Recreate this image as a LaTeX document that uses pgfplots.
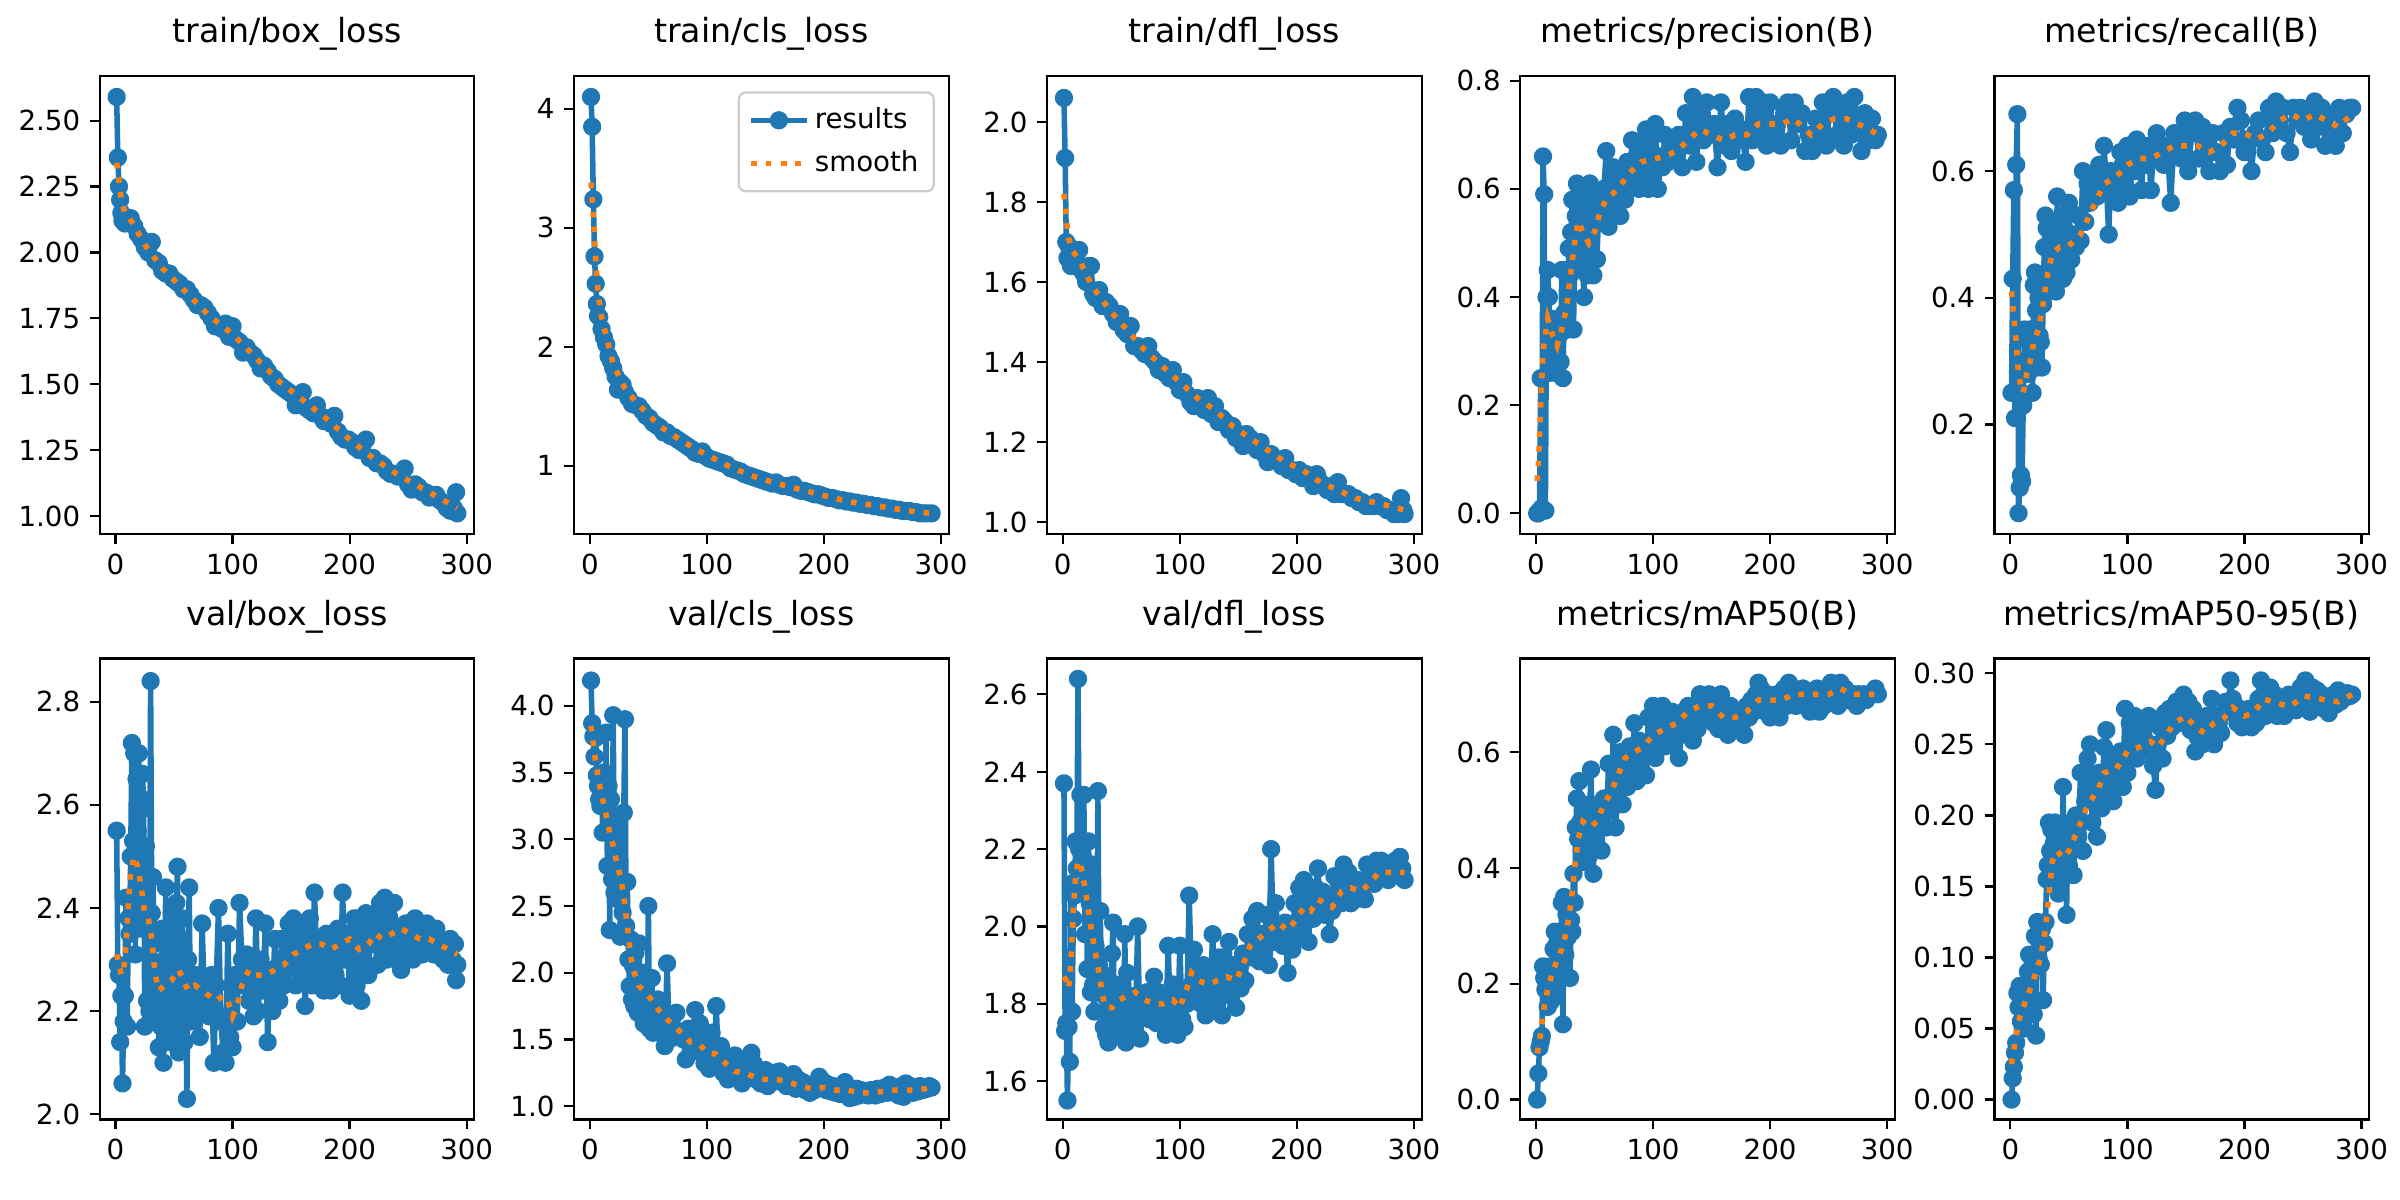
\documentclass[border=0pt]{standalone}
\usepackage{fontspec}
\setmainfont{DejaVu Sans}
\usepackage{pgfplots}
\pgfplotsset{compat=1.18}
\definecolor{c0}{HTML}{1F77B4}
\definecolor{c1}{HTML}{FF7F0E}
\pgfplotsset{
  panel/.style={scale only axis, width=135.4pt, anchor=south west,
    xmin=-13.55, xmax=306.55, xtick={0,100,200,300},
    tick pos=left, tick align=outside, major tick length=3.5pt,
    every tick/.append style={line width=0.8pt, black},
    axis line style={line width=0.8pt},
    ticklabel style={font=\fontsize{10}{12}\selectfont},
    /pgf/number format/assume math mode=true,
    scaled y ticks=false, clip marker paths=true,
    title style={font=\fontsize{12}{14}\selectfont, at={(0.5,1)}, anchor=base, yshift=6pt, inner sep=0pt},
  },
  rowa/.style={height=165.5pt},
  rowb/.style={height=166.6pt},
  yprec/.style={yticklabel style={/pgf/number format/fixed, /pgf/number format/fixed zerofill, /pgf/number format/precision=#1}},
  res/.style={color=c0, line width=2pt, mark=*, mark size=2.3pt, line join=round, mark options={solid}},
  smo/.style={color=c1, line width=2pt, dash pattern=on 2pt off 3.3pt, line cap=butt, no marks},
}
\begin{document}
\begin{tikzpicture}
\path[use as bounding box] (0,0) rectangle (867.24pt,433.62pt);

% ---------- train/box_loss
\begin{axis}[panel, rowa, at={(36.0pt,240.6pt)}, title={train/box\_loss}, ymin=0.931, ymax=2.669, ytick={1,1.25,1.5,1.75,2,2.25,2.5}, yprec=2]
\addplot[res] coordinates {(1,2.59)(2,2.36)(3,2.25)(4,2.20)(5,2.15)(6,2.12)(8,2.11)(10,2.12)(13,2.13)(16,2.10)(19,2.07)(22,2.05)(25,2.02)(28,2.00)(31,2.04)(34,1.97)(37,1.96)(40,1.93)(43,1.92)(46,1.92)(49,1.90)(52,1.89)(55,1.88)(58,1.86)(61,1.86)(64,1.84)(67,1.82)(70,1.80)(73,1.80)(76,1.79)(79,1.77)(82,1.75)(85,1.72)(88,1.72)(91,1.71)(94,1.73)(97,1.68)(100,1.72)(103,1.67)(106,1.66)(109,1.62)(112,1.64)(115,1.62)(118,1.61)(121,1.59)(124,1.56)(127,1.57)(130,1.55)(133,1.53)(136,1.52)(139,1.50)(142,1.49)(145,1.48)(148,1.47)(151,1.46)(154,1.42)(157,1.44)(160,1.47)(163,1.41)(166,1.40)(169,1.39)(172,1.42)(175,1.38)(178,1.36)(181,1.37)(184,1.35)(187,1.38)(190,1.32)(193,1.30)(196,1.29)(199,1.29)(202,1.28)(205,1.26)(208,1.25)(211,1.27)(214,1.29)(217,1.22)(220,1.22)(223,1.20)(226,1.20)(229,1.19)(232,1.17)(235,1.16)(238,1.16)(241,1.15)(244,1.15)(247,1.18)(250,1.12)(253,1.10)(256,1.12)(259,1.11)(262,1.09)(265,1.09)(268,1.07)(271,1.08)(274,1.08)(277,1.06)(280,1.05)(283,1.03)(286,1.02)(289,1.03)(291,1.09)(292,1.01)};
\addplot[smo] coordinates {(1,2.34)(3,2.27)(5,2.20)(8,2.15)(15,2.11)(25,2.03)(40,1.94)(60,1.85)(80,1.76)(100,1.69)(120,1.60)(140,1.51)(160,1.44)(180,1.37)(200,1.29)(220,1.22)(240,1.16)(260,1.11)(280,1.06)(292,1.03)};
\end{axis}

% ---------- train/cls_loss
\begin{axis}[panel, rowa, at={(207.4pt,240.6pt)}, title={train/cls\_loss}, ymin=0.425, ymax=4.275, ytick={1,2,3,4}, yprec=0,
  legend style={at={(1,1)}, anchor=north east, xshift=-5pt, yshift=-5.5pt, draw=black!20, line width=0.8pt, rounded corners=2.5pt, fill=white, font=\fontsize{10}{12}\selectfont, inner xsep=3.5pt, inner ysep=3.5pt, row sep=2.5pt},
  legend cell align=left,
  legend image code/.code={\draw[mark repeat=2,mark phase=2] plot coordinates {(0pt,0pt) (10pt,0pt) (20pt,0pt)};}]
\addplot[res] coordinates {(1,4.10)(2,3.85)(3,3.24)(4,2.76)(5,2.53)(6,2.36)(7,2.26)(8,2.25)(10,2.15)(12,2.08)(14,2.02)(16,1.92)(18,1.88)(20,1.82)(22,1.75)(24,1.64)(26,1.70)(28,1.68)(30,1.62)(33,1.57)(36,1.52)(39,1.51)(42,1.50)(45,1.46)(48,1.42)(51,1.40)(54,1.36)(57,1.34)(60,1.32)(63,1.28)(66,1.28)(69,1.25)(72,1.24)(75,1.22)(78,1.20)(81,1.18)(84,1.16)(87,1.14)(90,1.11)(93,1.10)(96,1.12)(99,1.08)(102,1.06)(105,1.05)(108,1.04)(111,1.03)(114,1.02)(117,1.01)(120,0.98)(123,0.97)(126,0.96)(129,0.95)(132,0.93)(135,0.92)(138,0.91)(141,0.90)(144,0.89)(147,0.88)(150,0.87)(153,0.86)(156,0.85)(159,0.86)(162,0.84)(165,0.83)(168,0.83)(171,0.82)(174,0.84)(177,0.80)(180,0.79)(183,0.79)(186,0.78)(189,0.77)(192,0.76)(195,0.76)(198,0.75)(201,0.74)(204,0.73)(207,0.73)(210,0.72)(213,0.71)(216,0.71)(219,0.70)(222,0.70)(225,0.69)(228,0.69)(231,0.68)(234,0.68)(237,0.67)(240,0.67)(243,0.66)(246,0.66)(249,0.65)(252,0.65)(255,0.64)(258,0.64)(261,0.63)(264,0.63)(267,0.62)(270,0.62)(273,0.62)(276,0.61)(279,0.61)(282,0.60)(285,0.60)(288,0.60)(292,0.60)};
\addlegendentry{results}
\addplot[smo] coordinates {(1,3.38)(3,3.10)(5,2.75)(7,2.45)(10,2.25)(15,2.05)(20,1.85)(30,1.65)(40,1.53)(50,1.43)(60,1.33)(80,1.20)(100,1.09)(120,0.99)(140,0.91)(160,0.85)(180,0.80)(200,0.75)(220,0.70)(240,0.67)(260,0.64)(280,0.61)(292,0.60)};
\addlegendentry{smooth}
\end{axis}

% ---------- train/dfl_loss
\begin{axis}[panel, rowa, at={(378.3pt,240.6pt)}, title={train/dfl\_loss}, ymin=0.970, ymax=2.1145, ytick={1,1.2,1.4,1.6,1.8,2}, yprec=1]
\addplot[res] coordinates {(1,2.06)(2,1.91)(3,1.70)(4,1.66)(5,1.69)(6,1.67)(7,1.64)(8,1.66)(10,1.67)(12,1.65)(14,1.68)(16,1.63)(18,1.62)(20,1.60)(22,1.64)(24,1.64)(26,1.57)(28,1.56)(31,1.58)(34,1.54)(37,1.55)(40,1.54)(43,1.52)(46,1.50)(49,1.52)(52,1.48)(55,1.47)(58,1.49)(61,1.44)(64,1.44)(67,1.43)(70,1.42)(73,1.44)(76,1.41)(79,1.40)(82,1.38)(85,1.39)(88,1.37)(91,1.36)(94,1.38)(97,1.35)(100,1.33)(103,1.35)(106,1.32)(109,1.30)(112,1.29)(115,1.31)(118,1.30)(121,1.28)(124,1.31)(127,1.27)(130,1.29)(133,1.25)(136,1.26)(139,1.25)(142,1.23)(145,1.24)(148,1.21)(151,1.22)(154,1.19)(157,1.22)(160,1.21)(163,1.19)(166,1.18)(169,1.20)(172,1.17)(175,1.15)(178,1.17)(181,1.16)(184,1.15)(187,1.14)(190,1.16)(193,1.13)(196,1.13)(199,1.12)(202,1.13)(205,1.11)(208,1.12)(211,1.11)(214,1.09)(217,1.12)(220,1.10)(223,1.09)(226,1.08)(229,1.09)(232,1.07)(235,1.10)(238,1.07)(241,1.07)(244,1.07)(247,1.06)(250,1.06)(253,1.05)(256,1.05)(259,1.04)(262,1.04)(265,1.04)(268,1.05)(271,1.04)(274,1.04)(277,1.03)(280,1.03)(283,1.02)(286,1.02)(289,1.06)(291,1.03)(292,1.02)};
\addplot[smo] coordinates {(1,1.82)(3,1.76)(5,1.71)(8,1.68)(15,1.65)(25,1.59)(40,1.53)(55,1.48)(70,1.43)(85,1.39)(100,1.35)(115,1.31)(130,1.28)(145,1.24)(160,1.21)(175,1.18)(190,1.15)(205,1.13)(220,1.10)(235,1.08)(250,1.06)(265,1.05)(280,1.04)(292,1.03)};
\end{axis}

% ---------- metrics/precision(B)
\begin{axis}[panel, rowa, at={(549.3pt,240.6pt)}, title={metrics/precision(B)}, ymin=-0.0385, ymax=0.8085, ytick={0,0.2,0.4,0.6,0.8}, yprec=1]
\addplot[res] coordinates {(1,0.0)(2,0.0)(3,0.005)(4,0.25)(5,0.01)(6,0.66)(7,0.59)(8,0.005)(9,0.40)(10,0.45)(11,0.40)(12,0.26)(13,0.36)(14,0.30)(15,0.35)(16,0.26)(17,0.34)(18,0.30)(19,0.35)(20,0.33)(21,0.28)(22,0.45)(23,0.25)(24,0.37)(25,0.45)(26,0.36)(27,0.34)(28,0.49)(29,0.44)(30,0.52)(31,0.58)(32,0.34)(33,0.46)(34,0.55)(35,0.61)(36,0.52)(37,0.60)(38,0.48)(39,0.57)(40,0.45)(41,0.40)(42,0.59)(43,0.50)(44,0.44)(45,0.55)(46,0.61)(47,0.48)(48,0.58)(49,0.44)(50,0.55)(52,0.47)(54,0.58)(56,0.55)(58,0.60)(60,0.67)(62,0.53)(64,0.60)(66,0.64)(68,0.56)(70,0.62)(72,0.55)(74,0.63)(76,0.58)(78,0.65)(80,0.60)(82,0.69)(84,0.62)(86,0.66)(88,0.60)(90,0.68)(92,0.63)(94,0.71)(96,0.60)(98,0.70)(100,0.62)(102,0.72)(104,0.60)(106,0.66)(108,0.64)(110,0.70)(113,0.65)(116,0.68)(119,0.66)(122,0.70)(125,0.64)(128,0.74)(131,0.68)(134,0.77)(137,0.65)(140,0.74)(143,0.69)(146,0.76)(149,0.70)(152,0.72)(155,0.64)(158,0.76)(161,0.68)(164,0.72)(167,0.67)(170,0.73)(173,0.69)(176,0.71)(179,0.65)(182,0.77)(185,0.69)(188,0.77)(191,0.70)(194,0.76)(197,0.68)(200,0.76)(203,0.70)(206,0.72)(209,0.68)(212,0.74)(215,0.76)(218,0.69)(221,0.76)(224,0.72)(227,0.74)(230,0.67)(233,0.70)(236,0.67)(239,0.73)(242,0.69)(245,0.76)(248,0.68)(251,0.75)(254,0.77)(257,0.70)(260,0.74)(263,0.68)(266,0.76)(269,0.70)(272,0.77)(275,0.72)(278,0.67)(281,0.74)(284,0.69)(287,0.73)(290,0.69)(292,0.70)};
\addplot[smo] coordinates {(1,0.06)(2,0.09)(3,0.14)(4,0.20)(5,0.25)(6,0.30)(8,0.33)(10,0.36)(14,0.33)(18,0.31)(22,0.34)(26,0.38)(30,0.45)(33,0.50)(36,0.54)(40,0.52)(45,0.50)(50,0.52)(55,0.56)(60,0.58)(65,0.59)(70,0.60)(80,0.63)(90,0.65)(100,0.655)(110,0.66)(120,0.67)(130,0.69)(140,0.71)(150,0.70)(160,0.69)(170,0.70)(180,0.70)(190,0.72)(200,0.72)(210,0.72)(220,0.73)(230,0.71)(235,0.70)(245,0.72)(255,0.73)(265,0.73)(275,0.72)(285,0.71)(292,0.70)};
\end{axis}

% ---------- metrics/recall(B)
\begin{axis}[panel, rowa, at={(720.7pt,240.6pt)}, title={metrics/recall(B)}, ymin=0.0268, ymax=0.750, ytick={0.2,0.4,0.6}, yprec=1]
\addplot[res] coordinates {(1,0.25)(2,0.43)(3,0.57)(4,0.21)(5,0.61)(6,0.69)(7,0.06)(8,0.10)(9,0.12)(10,0.11)(11,0.23)(12,0.35)(13,0.30)(14,0.34)(15,0.28)(16,0.33)(17,0.35)(18,0.32)(19,0.25)(20,0.42)(21,0.44)(22,0.38)(23,0.29)(24,0.40)(25,0.34)(26,0.33)(27,0.29)(28,0.39)(29,0.48)(30,0.53)(31,0.51)(32,0.41)(33,0.42)(34,0.48)(35,0.45)(36,0.50)(37,0.47)(38,0.43)(39,0.41)(40,0.56)(41,0.47)(42,0.52)(43,0.45)(44,0.50)(45,0.43)(46,0.53)(47,0.48)(48,0.44)(50,0.55)(52,0.46)(54,0.50)(56,0.48)(58,0.53)(60,0.49)(62,0.60)(64,0.52)(66,0.58)(68,0.55)(70,0.57)(72,0.59)(74,0.56)(76,0.61)(78,0.57)(80,0.64)(82,0.58)(84,0.50)(86,0.60)(88,0.57)(90,0.59)(92,0.55)(94,0.63)(96,0.61)(98,0.58)(100,0.64)(102,0.56)(104,0.63)(106,0.60)(108,0.65)(110,0.61)(112,0.57)(114,0.63)(116,0.61)(118,0.64)(120,0.57)(122,0.62)(125,0.66)(128,0.62)(131,0.61)(134,0.64)(137,0.55)(140,0.66)(143,0.64)(146,0.62)(149,0.68)(152,0.60)(155,0.66)(158,0.68)(161,0.62)(164,0.67)(167,0.64)(170,0.60)(173,0.66)(176,0.63)(179,0.60)(182,0.66)(185,0.61)(188,0.67)(191,0.65)(194,0.70)(197,0.68)(200,0.63)(203,0.65)(206,0.60)(209,0.66)(212,0.68)(215,0.65)(218,0.63)(221,0.70)(224,0.66)(227,0.71)(230,0.68)(233,0.70)(236,0.66)(239,0.63)(242,0.70)(245,0.68)(248,0.70)(251,0.67)(254,0.69)(257,0.65)(260,0.71)(263,0.67)(266,0.70)(269,0.64)(272,0.69)(275,0.66)(278,0.64)(281,0.70)(284,0.66)(287,0.69)(290,0.70)(292,0.70)};
\addplot[smo] coordinates {(1,0.41)(3,0.37)(5,0.33)(7,0.28)(9,0.26)(11,0.25)(14,0.28)(17,0.30)(20,0.33)(24,0.35)(28,0.39)(32,0.44)(36,0.47)(42,0.48)(48,0.48)(55,0.49)(60,0.50)(65,0.52)(70,0.54)(75,0.56)(80,0.58)(90,0.59)(100,0.61)(110,0.62)(120,0.62)(130,0.63)(140,0.64)(150,0.64)(160,0.64)(170,0.63)(180,0.64)(190,0.66)(200,0.66)(210,0.65)(220,0.66)(230,0.68)(240,0.69)(250,0.68)(260,0.69)(270,0.68)(280,0.67)(292,0.69)};
\end{axis}

% ---------- val/box_loss
\begin{axis}[panel, rowb, at={(36.0pt,29.1pt)}, title={val/box\_loss}, ymin=1.990, ymax=2.884, ytick={2,2.2,2.4,2.6,2.8}, yprec=1]
\addplot[res] coordinates {(1,2.55)(2,2.29)(3,2.27)(4,2.14)(5,2.23)(6,2.06)(7,2.18)(8,2.23)(9,2.42)(10,2.17)(11,2.38)(12,2.35)(13,2.50)(14,2.72)(15,2.53)(16,2.70)(17,2.31)(18,2.65)(19,2.55)(20,2.70)(21,2.36)(22,2.59)(23,2.66)(24,2.61)(25,2.17)(26,2.52)(27,2.22)(28,2.38)(29,2.20)(30,2.84)(31,2.39)(32,2.46)(33,2.33)(34,2.19)(35,2.22)(36,2.28)(37,2.13)(38,2.22)(39,2.17)(40,2.36)(41,2.10)(42,2.30)(43,2.44)(44,2.16)(45,2.25)(46,2.14)(47,2.30)(48,2.39)(49,2.19)(50,2.27)(51,2.15)(52,2.41)(53,2.48)(54,2.12)(55,2.30)(56,2.20)(57,2.38)(58,2.28)(59,2.14)(60,2.24)(61,2.03)(62,2.30)(63,2.44)(64,2.18)(65,2.26)(66,2.22)(68,2.27)(70,2.20)(72,2.15)(74,2.37)(76,2.22)(78,2.25)(80,2.19)(82,2.27)(84,2.10)(86,2.25)(88,2.40)(90,2.18)(92,2.12)(94,2.10)(96,2.35)(98,2.15)(100,2.13)(102,2.27)(104,2.18)(106,2.41)(108,2.30)(110,2.25)(112,2.31)(114,2.22)(116,2.29)(118,2.19)(120,2.38)(122,2.20)(124,2.30)(126,2.24)(128,2.37)(130,2.14)(132,2.28)(134,2.20)(136,2.34)(138,2.26)(140,2.22)(142,2.34)(144,2.25)(146,2.28)(148,2.37)(150,2.30)(152,2.38)(154,2.25)(156,2.33)(158,2.28)(160,2.36)(162,2.21)(164,2.33)(166,2.38)(168,2.25)(170,2.43)(172,2.30)(174,2.26)(176,2.34)(178,2.24)(180,2.35)(182,2.30)(184,2.24)(186,2.34)(188,2.27)(190,2.36)(192,2.25)(194,2.43)(196,2.30)(198,2.35)(200,2.23)(202,2.33)(204,2.38)(206,2.25)(208,2.38)(210,2.22)(212,2.35)(214,2.39)(216,2.27)(218,2.36)(220,2.33)(222,2.38)(224,2.29)(226,2.41)(228,2.31)(230,2.42)(232,2.30)(234,2.38)(236,2.31)(238,2.41)(240,2.30)(242,2.36)(244,2.28)(246,2.34)(248,2.37)(250,2.32)(252,2.35)(254,2.30)(256,2.38)(258,2.31)(260,2.36)(262,2.31)(264,2.34)(266,2.37)(268,2.32)(270,2.35)(272,2.31)(274,2.36)(276,2.32)(278,2.33)(280,2.30)(282,2.32)(284,2.29)(286,2.34)(288,2.30)(290,2.33)(291,2.26)(292,2.29)};
\addplot[smo] coordinates {(1,2.31)(3,2.29)(5,2.27)(7,2.28)(9,2.33)(11,2.41)(13,2.47)(16,2.50)(19,2.48)(22,2.44)(25,2.39)(28,2.38)(31,2.34)(34,2.27)(37,2.24)(42,2.25)(48,2.26)(54,2.28)(58,2.26)(62,2.24)(68,2.25)(74,2.24)(80,2.23)(86,2.22)(92,2.23)(96,2.22)(100,2.19)(104,2.21)(108,2.25)(114,2.28)(120,2.27)(128,2.27)(136,2.28)(144,2.29)(152,2.31)(160,2.32)(168,2.33)(176,2.33)(184,2.32)(192,2.33)(200,2.34)(208,2.32)(216,2.33)(222,2.35)(228,2.34)(236,2.35)(244,2.36)(252,2.35)(260,2.34)(268,2.34)(276,2.33)(284,2.32)(292,2.31)};
\end{axis}

% ---------- val/cls_loss
\begin{axis}[panel, rowb, at={(207.4pt,29.1pt)}, title={val/cls\_loss}, ymin=0.90, ymax=4.356, ytick={1,1.5,2,2.5,3,3.5,4}, yprec=1]
\addplot[res] coordinates {(1,4.19)(2,3.87)(3,3.77)(4,3.62)(5,3.76)(6,3.48)(7,3.40)(8,3.30)(9,3.25)(10,3.45)(11,3.05)(12,3.50)(13,3.35)(14,3.80)(15,2.80)(16,3.40)(17,2.32)(18,3.30)(19,2.70)(20,3.93)(21,2.60)(22,3.10)(23,2.80)(24,2.55)(25,3.05)(26,2.27)(27,2.70)(28,2.45)(29,3.20)(30,3.90)(31,2.35)(32,2.68)(33,2.10)(34,1.90)(35,2.25)(36,1.80)(37,2.05)(38,1.75)(39,2.15)(40,1.95)(41,1.70)(42,2.22)(43,1.85)(44,1.75)(45,2.00)(46,1.62)(47,1.80)(48,1.95)(49,1.60)(50,2.50)(51,1.58)(52,1.70)(53,1.96)(54,1.55)(55,1.75)(56,1.65)(58,1.80)(60,1.55)(62,1.70)(64,1.45)(66,2.07)(68,1.50)(70,1.62)(72,1.55)(74,1.70)(76,1.52)(78,1.55)(80,1.50)(82,1.35)(84,1.58)(86,1.40)(88,1.55)(90,1.72)(92,1.48)(94,1.62)(96,1.40)(98,1.32)(100,1.50)(102,1.28)(104,1.55)(106,1.35)(108,1.75)(110,1.30)(112,1.45)(114,1.25)(116,1.38)(118,1.20)(120,1.35)(122,1.28)(124,1.38)(126,1.22)(128,1.33)(130,1.17)(132,1.30)(134,1.22)(136,1.28)(138,1.40)(140,1.32)(142,1.20)(144,1.25)(146,1.17)(148,1.22)(150,1.27)(152,1.15)(154,1.22)(156,1.18)(158,1.25)(160,1.20)(162,1.26)(164,1.18)(166,1.22)(168,1.15)(170,1.20)(172,1.15)(174,1.24)(176,1.13)(178,1.20)(180,1.14)(182,1.18)(184,1.12)(186,1.15)(188,1.10)(190,1.16)(192,1.12)(194,1.18)(196,1.22)(198,1.14)(200,1.18)(202,1.12)(204,1.16)(206,1.11)(208,1.15)(210,1.10)(212,1.13)(214,1.09)(216,1.14)(218,1.18)(220,1.12)(222,1.06)(224,1.10)(226,1.07)(228,1.13)(230,1.08)(232,1.12)(234,1.09)(236,1.11)(238,1.08)(240,1.12)(242,1.10)(244,1.08)(246,1.13)(248,1.09)(250,1.11)(252,1.14)(254,1.10)(256,1.16)(258,1.13)(260,1.10)(262,1.12)(264,1.08)(266,1.15)(268,1.07)(270,1.17)(272,1.12)(274,1.15)(276,1.10)(278,1.14)(280,1.11)(282,1.15)(284,1.12)(286,1.14)(288,1.13)(290,1.15)(292,1.14)};
\addplot[smo] coordinates {(1,3.85)(3,3.72)(5,3.58)(8,3.42)(11,3.30)(14,3.18)(17,3.05)(20,2.95)(23,2.83)(26,2.72)(29,2.58)(32,2.35)(35,2.12)(38,2.00)(42,1.90)(48,1.85)(55,1.77)(62,1.68)(70,1.62)(78,1.55)(86,1.48)(94,1.46)(100,1.40)(108,1.39)(116,1.32)(124,1.26)(132,1.25)(140,1.22)(150,1.20)(160,1.20)(170,1.18)(180,1.15)(190,1.13)(200,1.14)(210,1.12)(220,1.12)(230,1.10)(240,1.10)(250,1.11)(260,1.12)(270,1.12)(280,1.12)(292,1.14)};
\end{axis}

% ---------- val/dfl_loss
\begin{axis}[panel, rowb, at={(378.3pt,29.1pt)}, title={val/dfl\_loss}, ymin=1.501, ymax=2.693, ytick={1.6,1.8,2,2.2,2.4,2.6}, yprec=1]
\addplot[res] coordinates {(1,2.37)(2,1.73)(3,1.75)(4,1.55)(5,1.74)(6,1.65)(7,2.11)(8,1.78)(9,2.02)(10,2.08)(11,2.22)(12,2.15)(13,2.64)(14,2.20)(15,2.34)(16,2.10)(17,2.18)(18,2.34)(19,1.98)(20,2.15)(21,1.89)(22,2.22)(23,2.06)(24,1.83)(25,2.16)(26,1.85)(27,1.78)(28,1.95)(29,1.86)(30,2.35)(31,1.90)(32,2.04)(33,1.88)(34,1.85)(35,1.74)(36,1.82)(37,1.72)(38,1.78)(39,1.70)(40,1.80)(41,1.75)(42,1.93)(43,2.01)(44,1.73)(45,1.85)(46,1.76)(47,1.72)(48,1.82)(49,1.75)(50,1.78)(51,1.85)(52,1.73)(53,1.98)(54,1.70)(55,1.88)(56,1.75)(57,1.80)(58,1.72)(60,1.82)(62,1.73)(64,2.00)(66,1.71)(68,1.80)(70,1.77)(72,1.83)(74,1.76)(76,1.80)(78,1.87)(80,1.75)(82,1.83)(84,1.78)(86,1.80)(88,1.72)(90,1.95)(92,1.76)(94,1.85)(96,1.77)(98,1.72)(100,1.95)(102,1.76)(104,1.74)(106,1.80)(108,2.08)(110,1.85)(112,1.94)(114,1.82)(116,1.87)(118,1.80)(120,1.90)(122,1.77)(124,1.86)(126,1.82)(128,1.98)(130,1.85)(132,1.80)(134,1.92)(136,1.77)(138,1.90)(140,1.84)(142,1.96)(144,1.82)(146,1.90)(148,1.79)(150,1.88)(152,1.84)(154,1.93)(156,1.86)(158,1.98)(160,1.92)(162,2.02)(164,1.94)(166,2.04)(168,1.91)(170,1.98)(172,1.93)(174,2.03)(176,1.90)(178,2.20)(180,1.96)(182,2.06)(184,1.97)(186,2.00)(188,1.95)(190,2.01)(192,1.88)(194,1.97)(196,1.94)(198,2.06)(200,2.01)(202,2.10)(204,1.97)(206,2.12)(208,2.03)(210,1.96)(212,2.08)(214,2.02)(216,2.10)(218,2.15)(220,2.04)(222,2.09)(224,2.03)(226,2.06)(228,1.98)(230,2.04)(232,2.13)(234,2.08)(236,2.11)(238,2.06)(240,2.16)(242,2.10)(244,2.14)(246,2.06)(248,2.11)(250,2.07)(252,2.12)(254,2.08)(256,2.10)(258,2.07)(260,2.16)(262,2.12)(264,2.15)(266,2.11)(268,2.17)(270,2.13)(272,2.17)(274,2.14)(276,2.16)(278,2.12)(280,2.15)(282,2.13)(284,2.17)(286,2.14)(288,2.18)(290,2.15)(292,2.12)};
\addplot[smo] coordinates {(1,1.87)(3,1.86)(5,1.84)(7,1.91)(9,2.04)(11,2.13)(13,2.17)(16,2.15)(19,2.10)(22,2.04)(25,1.98)(28,1.93)(31,1.88)(34,1.82)(37,1.79)(42,1.79)(48,1.81)(55,1.82)(62,1.83)(70,1.81)(78,1.80)(86,1.80)(94,1.81)(100,1.79)(106,1.84)(110,1.88)(116,1.86)(124,1.85)(132,1.86)(140,1.87)(148,1.86)(154,1.90)(160,1.95)(168,1.97)(176,1.99)(184,2.01)(192,1.99)(200,2.02)(206,2.05)(212,2.04)(218,2.07)(224,2.06)(230,2.05)(238,2.09)(246,2.10)(254,2.09)(262,2.11)(270,2.14)(278,2.14)(286,2.14)(292,2.14)};
\end{axis}

% ---------- metrics/mAP50(B)
\begin{axis}[panel, rowb, at={(549.3pt,29.1pt)}, title={metrics/mAP50(B)}, ymin=-0.0344, ymax=0.762, ytick={0,0.2,0.4,0.6}, yprec=1]
\addplot[res] coordinates {(1,0.0)(2,0.045)(3,0.09)(4,0.10)(5,0.11)(6,0.23)(7,0.21)(8,0.19)(9,0.22)(10,0.16)(11,0.20)(12,0.23)(13,0.17)(14,0.21)(15,0.26)(16,0.29)(17,0.19)(18,0.27)(19,0.23)(20,0.29)(21,0.22)(22,0.34)(23,0.13)(24,0.35)(25,0.25)(26,0.32)(27,0.28)(28,0.34)(29,0.21)(30,0.31)(31,0.29)(32,0.39)(33,0.34)(34,0.47)(35,0.52)(36,0.45)(37,0.55)(38,0.48)(39,0.43)(40,0.50)(41,0.46)(42,0.41)(43,0.49)(44,0.45)(45,0.42)(46,0.51)(47,0.57)(48,0.46)(49,0.39)(50,0.48)(52,0.44)(54,0.50)(56,0.43)(58,0.52)(60,0.47)(62,0.58)(64,0.50)(66,0.63)(68,0.47)(70,0.55)(72,0.60)(74,0.51)(76,0.58)(78,0.54)(80,0.61)(82,0.57)(84,0.65)(86,0.55)(88,0.62)(90,0.57)(92,0.60)(94,0.56)(96,0.66)(98,0.62)(100,0.68)(102,0.59)(104,0.66)(106,0.62)(108,0.68)(110,0.61)(112,0.66)(114,0.62)(116,0.67)(118,0.61)(120,0.65)(122,0.59)(124,0.63)(126,0.67)(128,0.64)(130,0.68)(132,0.66)(134,0.62)(136,0.68)(138,0.64)(140,0.70)(142,0.66)(144,0.69)(146,0.67)(148,0.70)(150,0.68)(152,0.65)(154,0.67)(156,0.64)(158,0.70)(160,0.65)(162,0.67)(164,0.63)(166,0.68)(168,0.64)(170,0.66)(172,0.64)(174,0.67)(176,0.65)(178,0.63)(180,0.68)(182,0.66)(184,0.69)(186,0.67)(188,0.70)(190,0.72)(192,0.71)(194,0.69)(196,0.67)(198,0.70)(200,0.66)(202,0.69)(204,0.67)(206,0.70)(208,0.66)(210,0.69)(212,0.71)(214,0.68)(216,0.72)(218,0.69)(220,0.71)(222,0.68)(224,0.70)(226,0.69)(228,0.71)(230,0.68)(232,0.70)(234,0.67)(236,0.70)(238,0.69)(240,0.71)(242,0.67)(244,0.70)(246,0.68)(248,0.71)(250,0.69)(252,0.72)(254,0.70)(256,0.71)(258,0.68)(260,0.72)(262,0.70)(264,0.71)(266,0.69)(268,0.70)(270,0.69)(272,0.70)(274,0.68)(276,0.70)(278,0.69)(280,0.70)(282,0.69)(284,0.70)(286,0.70)(288,0.70)(290,0.71)(292,0.70)};
\addplot[smo] coordinates {(1,0.08)(3,0.10)(5,0.13)(7,0.16)(10,0.19)(14,0.22)(18,0.24)(22,0.26)(26,0.29)(30,0.34)(33,0.40)(36,0.45)(40,0.48)(46,0.47)(52,0.48)(58,0.51)(64,0.53)(70,0.56)(76,0.59)(84,0.60)(92,0.61)(100,0.63)(110,0.64)(120,0.65)(130,0.67)(140,0.68)(150,0.68)(160,0.66)(170,0.66)(180,0.67)(190,0.69)(200,0.69)(210,0.69)(220,0.70)(230,0.70)(240,0.70)(250,0.70)(260,0.71)(270,0.70)(280,0.70)(292,0.70)};
\end{axis}

% ---------- metrics/mAP50-95(B)
\begin{axis}[panel, rowb, at={(720.7pt,29.1pt)}, title={metrics/mAP50-95(B)}, ymin=-0.014, ymax=0.3105, ytick={0,0.05,0.1,0.15,0.2,0.25,0.3}, yprec=2]
\addplot[res] coordinates {(1,0.0)(2,0.015)(3,0.023)(4,0.033)(5,0.040)(6,0.075)(7,0.065)(8,0.080)(9,0.055)(10,0.070)(11,0.060)(12,0.050)(13,0.070)(14,0.065)(15,0.090)(16,0.102)(17,0.085)(18,0.070)(19,0.095)(20,0.060)(21,0.115)(22,0.045)(23,0.125)(24,0.100)(25,0.110)(26,0.095)(27,0.120)(28,0.070)(29,0.110)(30,0.125)(31,0.155)(32,0.165)(33,0.195)(34,0.175)(35,0.190)(36,0.160)(37,0.180)(38,0.195)(39,0.170)(40,0.155)(41,0.145)(42,0.185)(43,0.170)(44,0.165)(45,0.220)(46,0.160)(47,0.175)(48,0.130)(49,0.185)(50,0.165)(52,0.195)(54,0.158)(56,0.200)(58,0.185)(60,0.230)(62,0.175)(64,0.210)(66,0.240)(68,0.250)(70,0.195)(72,0.222)(74,0.185)(76,0.230)(78,0.205)(80,0.248)(82,0.260)(84,0.215)(86,0.235)(88,0.210)(90,0.240)(92,0.225)(94,0.245)(96,0.220)(98,0.275)(100,0.230)(102,0.265)(104,0.245)(106,0.270)(108,0.240)(110,0.255)(112,0.248)(114,0.262)(116,0.252)(118,0.270)(120,0.245)(122,0.235)(124,0.218)(126,0.250)(128,0.262)(130,0.240)(132,0.272)(134,0.256)(136,0.275)(138,0.262)(140,0.270)(142,0.280)(144,0.265)(146,0.275)(148,0.285)(150,0.270)(152,0.280)(154,0.260)(156,0.275)(158,0.245)(160,0.255)(162,0.265)(164,0.250)(166,0.258)(168,0.270)(170,0.262)(172,0.282)(174,0.250)(176,0.270)(178,0.265)(180,0.258)(182,0.272)(184,0.280)(186,0.275)(188,0.295)(190,0.282)(192,0.275)(194,0.265)(196,0.275)(198,0.262)(200,0.270)(202,0.268)(204,0.275)(206,0.262)(208,0.270)(210,0.265)(212,0.282)(214,0.295)(216,0.285)(218,0.270)(220,0.280)(222,0.290)(224,0.278)(226,0.285)(228,0.270)(230,0.282)(232,0.275)(234,0.270)(236,0.278)(238,0.285)(240,0.275)(242,0.283)(244,0.274)(246,0.285)(248,0.290)(250,0.282)(252,0.295)(254,0.285)(256,0.273)(258,0.290)(260,0.282)(262,0.288)(264,0.278)(266,0.285)(268,0.275)(270,0.282)(272,0.272)(274,0.280)(276,0.285)(278,0.278)(280,0.288)(282,0.280)(284,0.285)(286,0.283)(288,0.286)(290,0.284)(292,0.285)};
\addplot[smo] coordinates {(1,0.025)(3,0.035)(5,0.045)(8,0.058)(11,0.065)(14,0.072)(18,0.080)(22,0.090)(26,0.100)(30,0.120)(33,0.145)(36,0.168)(40,0.175)(45,0.170)(50,0.175)(55,0.185)(60,0.195)(65,0.205)(70,0.212)(75,0.218)(80,0.230)(90,0.232)(100,0.245)(110,0.248)(120,0.252)(126,0.248)(132,0.255)(140,0.265)(150,0.270)(158,0.262)(166,0.258)(174,0.265)(182,0.268)(190,0.276)(200,0.270)(208,0.272)(216,0.282)(224,0.280)(232,0.278)(240,0.277)(250,0.284)(260,0.283)(270,0.281)(280,0.280)(292,0.285)};
\end{axis}
\end{tikzpicture}
\end{document}
